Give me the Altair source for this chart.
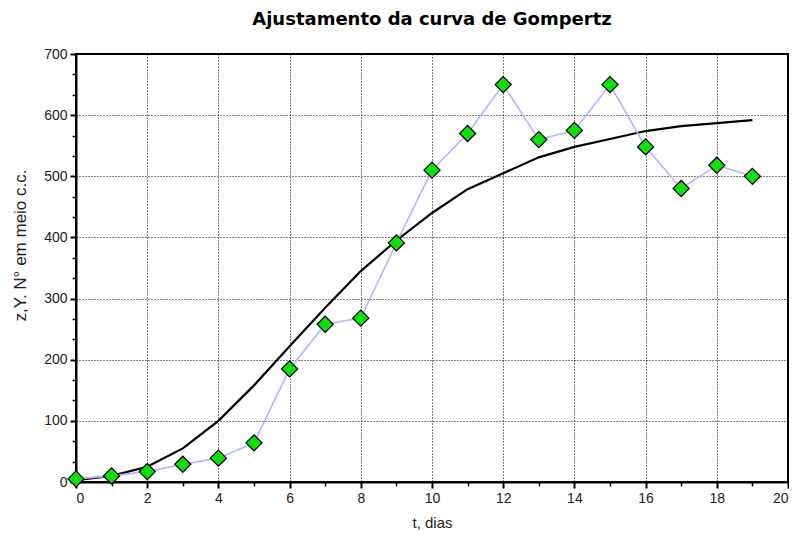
import altair as alt
import pandas as pd

# ---- data ----
t = list(range(20))
observed = [5, 10, 17, 29, 39, 64, 185, 258, 268, 391, 510, 570, 650, 560, 575, 650, 548, 480, 518, 500]
fitted = [3, 10, 25, 55, 100, 158, 222, 285, 345, 395, 440, 479, 505, 531, 548, 561, 574, 582, 587, 592]

x_major = list(range(0, 21, 2))
x_minor = list(range(1, 20, 2))
y_major = list(range(0, 701, 100))
y_minor = [round(i * 100 / 3, 3) for i in range(1, 21) if i % 3 != 0]

df = pd.DataFrame({"t": t, "obs": observed, "fit": fitted})

FONT = "Liberation Sans"
xs = alt.Scale(domain=[0, 20], nice=False, zero=False)
ys = alt.Scale(domain=[0, 700], nice=False, zero=False)

major_x = alt.Axis(orient="bottom", values=x_major, grid=True, gridColor="black", gridDash=[1, 2],
                   gridWidth=1, gridOpacity=1, domainColor="black", domainWidth=2, tickColor="black",
                   tickWidth=2, tickSize=6, labelFont=FONT, labelFontSize=14, labelColor="#222",
                   labelPadding=3, title="t, dias", titleFont=FONT, titleFontSize=15,
                   titleFontWeight="normal", titleColor="#222", titlePadding=10)
major_y = alt.Axis(orient="left", values=y_major, grid=True, gridColor="black", gridDash=[1, 2],
                   gridWidth=1, gridOpacity=1, domainColor="black", domainWidth=2, tickColor="black",
                   tickWidth=2, tickSize=6, labelFont=FONT, labelFontSize=14, labelColor="#222",
                   labelPadding=3, title="z,Y. N° em meio c.c.", titleFont=FONT, titleFontSize=17,
                   titleFontWeight="normal", titleColor="#222", titleX=-56, titleY=191,
                   titleAngle=270, titleAlign="center", titleBaseline="middle")
minor_x = alt.Axis(orient="bottom", values=x_minor, grid=False, domain=False, labels=False,
                   tickColor="black", tickWidth=1.5, tickSize=4, title=None)
minor_y = alt.Axis(orient="left", values=y_minor, grid=False, domain=False, labels=False,
                   tickColor="black", tickWidth=1.5, tickSize=4, title=None)

fit_line = alt.Chart(df).mark_line(color="black", strokeWidth=2.2).encode(
    x=alt.X("t:Q", scale=xs, axis=major_x),
    y=alt.Y("fit:Q", scale=ys, axis=major_y),
)

obs_line = alt.Chart(df).mark_line(color="#b4b4ff", strokeWidth=1.6).encode(
    x=alt.X("t:Q", scale=xs, axis=minor_x),
    y=alt.Y("obs:Q", scale=ys, axis=minor_y),
)

obs_pts = alt.Chart(df).mark_point(shape="diamond", filled=True, fill="#11dd11", stroke="black",
                                   strokeWidth=1.2, size=260, opacity=1).encode(
    x=alt.X("t:Q", scale=xs, axis=None),
    y=alt.Y("obs:Q", scale=ys, axis=None),
)

chart = alt.layer(fit_line, obs_line, obs_pts).resolve_axis(
    x="independent", y="independent"
).properties(
    width=712,
    height=428,
    title=alt.TitleParams("Ajustamento da curva de Gompertz", font="DejaVu Sans", fontSize=18,
                          fontWeight="bold", anchor="middle", offset=18, color="black"),
    autosize=alt.AutoSizeParams(type="none"),
    padding={"left": 68, "top": 46, "right": 1, "bottom": 49},
).configure_view(stroke="black", strokeWidth=2)

chart.save("out.html", embed_options={"renderer": "svg", "actions": False})
